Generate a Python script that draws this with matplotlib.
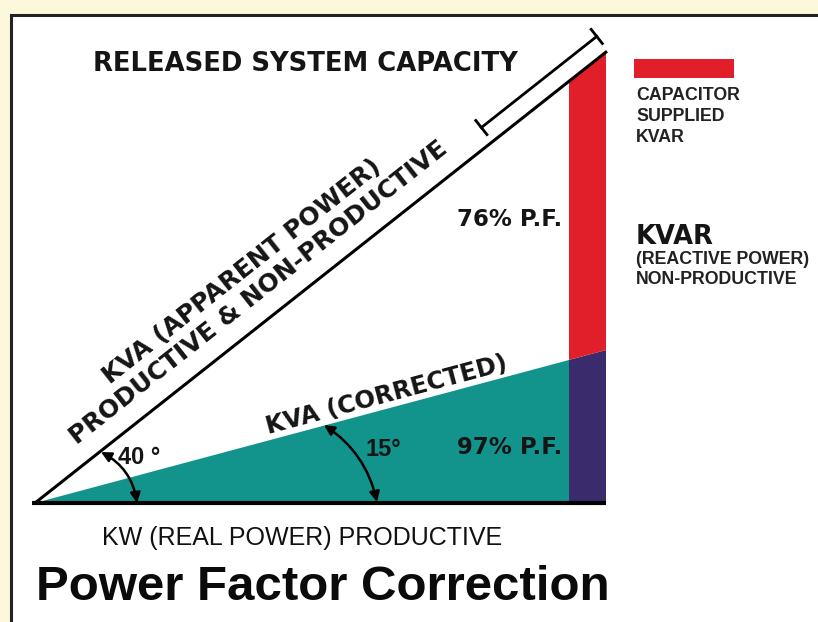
import numpy as np
import matplotlib.pyplot as plt
from matplotlib.patches import Polygon, Rectangle, FancyArrowPatch

# values of the diagram
kw_length = 571          # base (KW), in pixels
apparent_angle = 38.3    # drawn angle of uncorrected KVA
corrected_angle = 15.0   # drawn angle of corrected KVA
angle_labels = ["40 °", "15°"]
pf_labels = ["76% P.F.", "97% P.F."]
bar_width = 37

teal = "#12948c"
red = "#e01f2b"
navy = "#3a2b6c"
cream = "#fcf8dc"

fig = plt.figure(figsize=(8.18, 6.22), dpi=100, facecolor=cream)
ax = fig.add_axes([0, 0, 1, 1])
ax.set_xlim(0, 818)
ax.set_ylim(622, 0)
ax.axis("off")

ax.add_patch(Rectangle((11, 15), 830, 640, facecolor="white", edgecolor="#222222", lw=2.2))

x0, y0 = 35, 503
x_end = x0 + kw_length
x_bar = x_end - bar_width

def y_hyp(x, ang):
    return y0 - (x - x0) * np.tan(np.radians(ang))

def frame(ang):
    r = np.radians(ang)
    return np.array([np.cos(r), -np.sin(r)]), np.array([-np.sin(r), -np.cos(r)])

# corrected triangle (teal)
ax.add_patch(Polygon([(x0, y0), (x_bar, y0), (x_bar, y_hyp(x_bar, corrected_angle))],
                     closed=True, facecolor=teal, edgecolor="none"))
# KVAR bar: navy below, red above
ax.add_patch(Polygon([(x_bar, y0), (x_end, y0), (x_end, y_hyp(x_end, corrected_angle)),
                      (x_bar, y_hyp(x_bar, corrected_angle))], closed=True,
                     facecolor=navy, edgecolor="none"))
ax.add_patch(Polygon([(x_bar, y_hyp(x_bar, corrected_angle)), (x_end, y_hyp(x_end, corrected_angle)),
                      (x_end, y_hyp(x_end, apparent_angle)), (x_bar, y_hyp(x_bar, apparent_angle))],
                     closed=True, facecolor=red, edgecolor="none"))

# hypotenuse and base
ax.plot([x0, x_end + 1], [y0, y_hyp(x_end + 1, apparent_angle)], color="black", lw=2.2,
        solid_capstyle="butt")
ax.plot([x0 - 3, x_end], [y0, y0], color="black", lw=3, solid_capstyle="butt")

# released capacity bracket
u, n = frame(apparent_angle)
p0 = np.array([x0, y0])
s1, s2, off = 583, 730, 18
a = p0 + s1 * u + off * n
b = p0 + s2 * u + off * n
ax.plot([a[0], b[0]], [a[1], b[1]], color="black", lw=2)
for p in (a, b):
    t1, t2 = p - 9 * n, p + 9 * n
    ax.plot([t1[0], t2[0]], [t1[1], t2[1]], color="black", lw=2)

# angle arrows
for start, end, rad in [((137, 503), (101, 452), 0.25), ((377, 502), (324, 425), 0.2)]:
    ax.add_patch(FancyArrowPatch(start, end, arrowstyle="<|-|>,head_length=6,head_width=3",
                                 connectionstyle=f"arc3,rad={rad}", color="black", lw=1.8,
                                 shrinkA=0, shrinkB=0))

font = "Liberation Sans"
heavy = "DejaVu Sans"
ink = "#151515"

ax.text(305, 64, "RELEASED SYSTEM CAPACITY", fontsize=18.6, fontweight="bold", family=heavy,
        ha="center", va="center", color=ink)
ax.add_patch(Rectangle((634, 59), 100, 19, facecolor=red, edgecolor="none"))
ax.text(636, 87, "CAPACITOR\nSUPPLIED\nKVAR", fontsize=12.8, fontweight="bold", family=font,
        ha="left", va="top", color="#222222", linespacing=1.3)
ax.text(636, 237, "KVAR", fontsize=18.5, fontweight="bold", family=heavy, ha="left", va="center",
        color=ink)
ax.text(636, 251, "(REACTIVE POWER)\nNON-PRODUCTIVE", fontsize=12.8, fontweight="bold", family=font,
        ha="left", va="top", color="#222222", linespacing=1.25)

ax.text(510, 219, pf_labels[0], fontsize=16.5, fontweight="bold", family=heavy, ha="center",
        va="center", color=ink)
ax.text(510, 447, pf_labels[1], fontsize=16.5, fontweight="bold", family=heavy, ha="center",
        va="center", color=ink)
ax.text(139, 457, angle_labels[0], fontsize=17, fontweight="bold", family=font, ha="center",
        va="center", color=ink)
ax.text(383, 450, angle_labels[1], fontsize=17, fontweight="bold", family=font, ha="center",
        va="center", color=ink)

# labels along the two hypotenuses
uc, nc = frame(corrected_angle)
pc = p0 + 368 * uc + 6 * nc
ax.text(pc[0], pc[1], "KVA (CORRECTED)", fontsize=17.5, fontweight="bold", family=heavy,
        ha="center", va="baseline", rotation=corrected_angle, rotation_mode="anchor", color=ink)
p1 = p0 + 306 * u + 46 * n
p2 = p0 + 306 * u + 19 * n
ax.text(p1[0], p1[1], "KVA (APPARENT POWER)", fontsize=18, fontweight="bold", family=heavy,
        ha="center", va="baseline", rotation=apparent_angle, rotation_mode="anchor", color=ink)
ax.text(p2[0], p2[1], "PRODUCTIVE & NON-PRODUCTIVE", fontsize=18, fontweight="bold", family=heavy,
        ha="center", va="baseline", rotation=apparent_angle, rotation_mode="anchor", color=ink)

ax.text(302, 538, "KW (REAL POWER) PRODUCTIVE", fontsize=18, family=font, ha="center",
        va="center", color="#111111")
ax.text(323, 588, "Power Factor Correction", fontsize=35.5, fontweight="bold", family=font,
        ha="center", va="center", color="#0a0a0a")

fig.savefig("out.png", dpi=100, facecolor=cream)
